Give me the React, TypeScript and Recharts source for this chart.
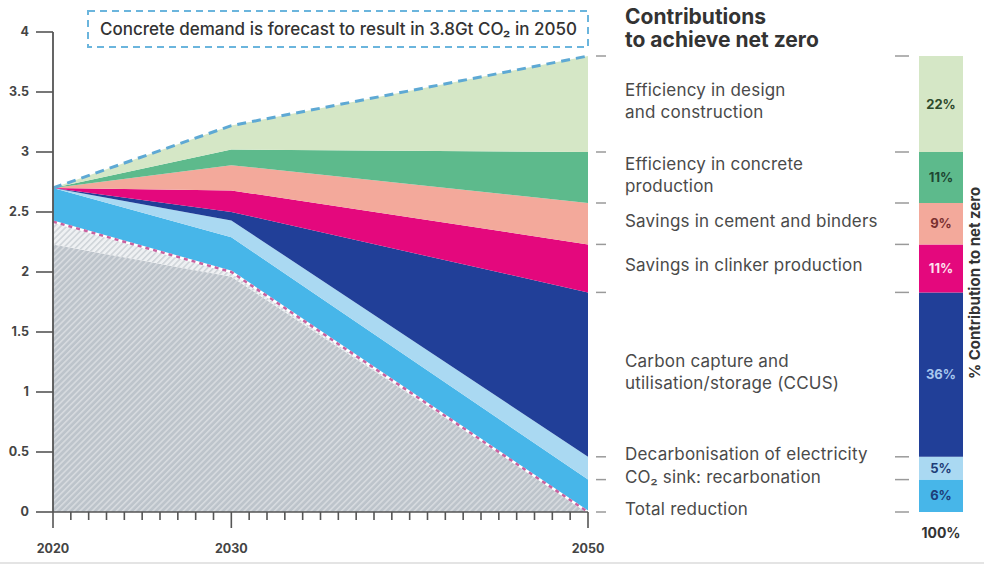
import React from 'react';
import {
  ComposedChart, Area, Line, XAxis, YAxis, BarChart, Bar, LabelList,
} from 'recharts';

// emissions in Gt CO2, stacked from the bottom up
const years = [2020, 2030, 2050];
const remaining = [2.23, 1.96, 0];
const hatched = [0.19, 0.04, 0];
const recarbonation = [0.28, 0.29, 0.27];
const electricity = [0, 0.14, 0.19];
const ccus = [0, 0.07, 1.37];
const clinker = [0, 0.18, 0.4];
const cement = [0, 0.21, 0.345];
const concrete = [0, 0.13, 0.425];
const design = [0, 0.2, 0.8];

const contributionPct = ['6%', '5%', '36%', '11%', '9%', '11%', '22%'];

const yTicks = [0, 0.5, 1, 1.5, 2, 2.5, 3, 3.5, 4];
const majorYears = [2020, 2030, 2050];
const allYears = Array.from({ length: 31 }, (_, i) => 2020 + i);

const FONT = 'Inter, "Noto Sans", sans-serif';

// reductions, bottom to top
const reductions = [
  { key: 'recarbonation', values: recarbonation, fill: '#47b6e9', text: '#1e3d78' },
  { key: 'electricity', values: electricity, fill: '#aad9f2', text: '#1e3d78' },
  { key: 'ccus', values: ccus, fill: '#213f98', text: '#a9c7ee' },
  { key: 'clinker', values: clinker, fill: '#e4087d', text: '#fde0ee' },
  { key: 'cement', values: cement, fill: '#f3a99b', text: '#7a3030' },
  { key: 'concrete', values: concrete, fill: '#5dba8c', text: '#1e4632' },
  { key: 'design', values: design, fill: '#d5e7c6', text: '#2e4a2c' },
];

const areaData = years.map((year, i) => {
  const row: any = { year, remaining: remaining[i], hatched: hatched[i], hatchTop: remaining[i] + hatched[i] };
  reductions.forEach(r => { row[r.key] = r.values[i]; });
  return row;
});

// 2050 boundaries for the tick marks beside the legend and the bar
const last = years.length - 1;
const bounds: number[] = [0];
reductions.forEach(r => bounds.push(bounds[bounds.length - 1] + r.values[last]));

const mid = (i: number) => (bounds[i] + bounds[i + 1]) / 2;
const legendItems = [
  { lines: ['Efficiency in design', 'and construction'], anchor: mid(6) },
  { lines: ['Efficiency in concrete', 'production'], anchor: mid(5) },
  { lines: ['Savings in cement and binders'], anchor: mid(4) },
  { lines: ['Savings in clinker production'], anchor: mid(3) },
  { lines: ['Carbon capture and', 'utilisation/storage (CCUS)'], anchor: mid(2) },
  { lines: ['Decarbonisation of electricity'], anchor: bounds[2] },
  { lines: ['CO₂ sink: recarbonation'], anchor: bounds[1] },
  { lines: ['Total reduction'], anchor: bounds[0] },
];

const near = (a: number, b: number) => Math.abs(a - b) < 1e-6;
const legendTicks: number[] = [];
[...bounds, ...legendItems.map(it => it.anchor)].forEach(v => {
  if (!legendTicks.some(t => near(t, v))) legendTicks.push(v);
});

const barRow: any = { name: '100%' };
reductions.forEach((r, i) => {
  barRow[r.key] = r.values[last];
  barRow[r.key + 'Pct'] = contributionPct[i];
});

const YearTick = ({ x, y, payload }: any) => {
  const major = majorYears.includes(payload.value);
  return (
    <g>
      <line x1={x} x2={x} y1={y} y2={y + (major ? 16 : 8)} stroke="#555" strokeWidth={1.6} />
      {major && (
        <text x={x} y={y + 41} textAnchor="middle" fontSize={12.5} fontWeight={700} fill="#444">
          {payload.value}
        </text>
      )}
    </g>
  );
};

const BarMarkTick = ({ x, y }: any) => (
  <line x1={x - 24} x2={x - 10} y1={y} y2={y} stroke="#9a9a9a" strokeWidth={1.5} />
);

// one right-hand axis: a short mark at each 2050 boundary, a label at each anchor
const LegendTick = ({ x, y, payload }: any) => {
  const v = payload.value;
  const isBound = bounds.some(b => near(b, v));
  const item = legendItems.find(it => near(it.anchor, v));
  const n = item ? item.lines.length : 0;
  return (
    <g>
      {isBound && <line x1={x + 8} x2={x + 18} y1={y} y2={y} stroke="#9a9a9a" strokeWidth={1.5} />}
      {item && (
        <text fontSize={17} letterSpacing={0.2} fill="#4a4a4a">
          {item.lines.map((l, i) => (
            <tspan key={i} x={x + 37} y={y + 3 + (i - (n - 1) / 2) * 22}>{l}</tspan>
          ))}
        </text>
      )}
    </g>
  );
};

export default function App() {
  return (
    <div style={{ position: 'absolute', left: 0, top: 0, width: 984, height: 566, background: '#fff', fontFamily: FONT }}>
      <ComposedChart width={984} height={566} data={areaData} margin={{ top: 32, right: 0, bottom: 0, left: 0 }}>
        <defs>
          <pattern id="hatchGrey" width="4.3" height="4.3" patternUnits="userSpaceOnUse" patternTransform="rotate(45)">
            <rect width="4.3" height="4.3" fill="#bdc4cb" />
            <rect width="1.6" height="4.3" fill="#d7dbdf" />
          </pattern>
          <pattern id="hatchLight" width="4.3" height="4.3" patternUnits="userSpaceOnUse" patternTransform="rotate(45)">
            <rect width="4.3" height="4.3" fill="#eff1f3" />
            <rect width="1.6" height="4.3" fill="#cfd4d9" />
          </pattern>
        </defs>
        <XAxis
          type="number"
          dataKey="year"
          domain={[2020, 2050]}
          ticks={allYears}
          interval={0}
          height={54}
          axisLine={{ stroke: '#555', strokeWidth: 1.6 }}
          tickLine={false}
          tickSize={0}
          tickMargin={0}
          tick={<YearTick />}
        />
        <YAxis
          domain={[0, 4]}
          ticks={yTicks}
          interval={0}
          width={53}
          axisLine={{ stroke: '#555', strokeWidth: 1.8 }}
          tickLine={{ stroke: '#555', strokeWidth: 1.6 }}
          tickSize={17}
          tickMargin={7}
          tick={{ fill: '#444', fontSize: 12.5, fontWeight: 700 }}
        />
        <YAxis
          yAxisId="legend"
          orientation="right"
          type="number"
          domain={[0, 4]}
          allowDataOverflow
          ticks={legendTicks}
          interval={0}
          width={396}
          axisLine={false}
          tickLine={false}
          tickSize={0}
          tickMargin={0}
          tick={<LegendTick />}
        />
        <Area type="linear" stackId="s" dataKey="remaining" fill="url(#hatchGrey)" fillOpacity={1} stroke="none" isAnimationActive={false} />
        <Area type="linear" stackId="s" dataKey="hatched" fill="url(#hatchLight)" fillOpacity={1} stroke="none" isAnimationActive={false} />
        {reductions.map(r => (
          <Area
            key={r.key}
            type="linear"
            stackId="s"
            dataKey={r.key}
            fill={r.fill}
            fillOpacity={1}
            stroke={r.key === 'design' ? '#5ea9d4' : 'none'}
            strokeWidth={r.key === 'design' ? 3 : 0}
            strokeDasharray={r.key === 'design' ? '9 6' : undefined}
            isAnimationActive={false}
          />
        ))}
        <Line type="linear" dataKey="hatchTop" stroke="#ffffff" strokeWidth={2.5} dot={false} activeDot={false} isAnimationActive={false} />
        <Line type="linear" dataKey="hatchTop" stroke="#c8629f" strokeWidth={2.5} strokeDasharray="4 4" dot={false} activeDot={false} isAnimationActive={false} />
        {/* invisible carrier so the right-hand axis gets a scale */}
        <Line yAxisId="legend" type="linear" dataKey="hatchTop" stroke="none" dot={false} activeDot={false} legendType="none" isAnimationActive={false} />
      </ComposedChart>

      <div style={{ position: 'absolute', left: 890, top: 0 }}>
        <BarChart width={94} height={566} data={[barRow]} margin={{ top: 32, right: 0, bottom: 0, left: 0 }} barCategoryGap={0}>
          <XAxis
            dataKey="name"
            height={54}
            axisLine={false}
            tickLine={false}
            tickSize={0}
            tickMargin={16}
            tick={{ fill: '#333', fontSize: 14, fontWeight: 700 }}
          />
          <YAxis
            domain={[0, 4]}
            ticks={bounds}
            interval={0}
            width={29}
            axisLine={false}
            tickLine={false}
            tickSize={0}
            tickMargin={0}
            tick={<BarMarkTick />}
          />
          <YAxis yAxisId="pct" orientation="right" width={21} tick={false} axisLine={false} tickLine={false} />
          {reductions.map(r => (
            <Bar key={r.key} dataKey={r.key} stackId="a" fill={r.fill} isAnimationActive={false}>
              <LabelList dataKey={r.key + 'Pct'} position="center" fill={r.text} fontSize={13} fontWeight={700} />
            </Bar>
          ))}
        </BarChart>
      </div>

      <svg width={984} height={566} style={{ position: 'absolute', left: 0, top: 0, pointerEvents: 'none' }}>
        <rect x={88} y={11} width={500} height={36} fill="none" stroke="#6bb5dd" strokeWidth={2} strokeDasharray="7 5" />
        <text x={100} y={35} fontSize={17} fontWeight={500} fill="#333">
          Concrete demand is forecast to result in 3.8Gt CO₂ in 2050
        </text>
        <text x={625} y={24} fontSize={21} fontWeight={700} fill="#333">Contributions</text>
        <text x={625} y={47} fontSize={21} fontWeight={700} fill="#333">to achieve net zero</text>
        <text transform="translate(980,283) rotate(-90)" textAnchor="middle" fontSize={15} fontWeight={700} fill="#333">
          % Contribution to net zero
        </text>
        <rect x={0} y={562} width={984} height={2} fill="#e4e4e4" />
      </svg>
    </div>
  );
}
